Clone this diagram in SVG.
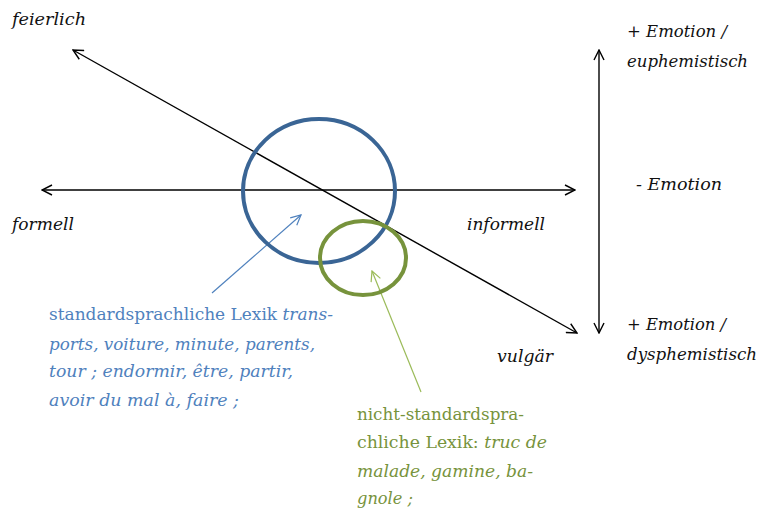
<svg xmlns="http://www.w3.org/2000/svg" width="762" height="510" viewBox="0 0 762 510">
<style>
.ax{stroke:#000;stroke-width:1.4;fill:none}
.t{font-family:"DejaVu Serif","Liberation Serif",serif;font-size:16px;font-style:italic;fill:#111}
.b{font-family:"DejaVu Serif","Liberation Serif",serif;font-size:16px;fill:#4f81bd}
.g{font-family:"DejaVu Serif","Liberation Serif",serif;font-size:16px;fill:#77933c}
.i{font-style:italic}
</style>
<defs>
<marker id="ah" viewBox="0 0 12 12" refX="11" refY="6" markerWidth="12" markerHeight="12" markerUnits="userSpaceOnUse" orient="auto-start-reverse">
<path d="M1,1 L11,6 L1,11" fill="none" stroke="#000" stroke-width="1.4"/>
</marker>
<marker id="ahb" viewBox="0 0 12 12" refX="11" refY="6" markerWidth="12" markerHeight="12" markerUnits="userSpaceOnUse" orient="auto">
<path d="M1,1 L11,6 L1,11" fill="none" stroke="#4f81bd" stroke-width="1.2"/>
</marker>
<marker id="ahg" viewBox="0 0 12 12" refX="11" refY="6" markerWidth="12" markerHeight="12" markerUnits="userSpaceOnUse" orient="auto">
<path d="M1,1 L11,6 L1,11" fill="none" stroke="#9bbb59" stroke-width="1.2"/>
</marker>
</defs>
<rect width="762" height="510" fill="#fff"/>
<g id="connectors">
<line class="ax" x1="73" y1="50" x2="577" y2="333" marker-start="url(#ah)" marker-end="url(#ah)"/>
<line class="ax" x1="42" y1="190" x2="575" y2="190" marker-start="url(#ah)" marker-end="url(#ah)"/>
<line class="ax" x1="599" y1="50" x2="599" y2="333" marker-start="url(#ah)" marker-end="url(#ah)"/>
<line x1="212" y1="293" x2="301" y2="215" stroke="#4f81bd" stroke-width="1.2" marker-end="url(#ahb)"/>
<line x1="421" y1="392" x2="372" y2="271" stroke="#9bbb59" stroke-width="1.2" marker-end="url(#ahg)"/>
</g>
<g id="standard-circle">
<ellipse cx="319" cy="191" rx="76" ry="72" fill="none" stroke="#3a6595" stroke-width="4"/>
</g>
<g id="nonstandard-circle">
<ellipse cx="363" cy="258" rx="43" ry="37" fill="none" stroke="#77933c" stroke-width="4"/>
</g>
<g id="labels">
<text class="t" x="12" y="25" textLength="74" lengthAdjust="spacingAndGlyphs">feierlich</text>
<text class="t" x="12" y="230" textLength="62" lengthAdjust="spacingAndGlyphs">formell</text>
<text class="t" x="467" y="230" textLength="78" lengthAdjust="spacingAndGlyphs">informell</text>
<text class="t" x="497" y="362" textLength="56" lengthAdjust="spacingAndGlyphs">vulgär</text>
<text class="t" x="627" y="37" textLength="100" lengthAdjust="spacingAndGlyphs">+ Emotion /</text>
<text class="t" x="627" y="67" textLength="121" lengthAdjust="spacingAndGlyphs">euphemistisch</text>
<text class="t" x="636" y="190" textLength="86" lengthAdjust="spacingAndGlyphs">- Emotion</text>
<text class="t" x="627" y="330" textLength="99" lengthAdjust="spacingAndGlyphs">+ Emotion /</text>
<text class="t" x="627" y="360" textLength="130" lengthAdjust="spacingAndGlyphs">dysphemistisch</text>
</g>
<g id="standard-label">
<text class="b" x="49" y="320" textLength="284" lengthAdjust="spacingAndGlyphs">standardsprachliche Lexik <tspan class="i">trans-</tspan></text>
<text class="b i" x="49" y="350" textLength="266" lengthAdjust="spacingAndGlyphs">ports, voiture, minute, parents,</text>
<text class="b i" x="49" y="377" textLength="244" lengthAdjust="spacingAndGlyphs">tour ; endormir, être, partir,</text>
<text class="b i" x="49" y="406" textLength="190" lengthAdjust="spacingAndGlyphs">avoir du mal à, faire ;</text>
</g>
<g id="nonstandard-label">
<text class="g" x="357" y="420" textLength="167" lengthAdjust="spacingAndGlyphs">nicht-standardspra-</text>
<text class="g" x="357" y="448" textLength="190" lengthAdjust="spacingAndGlyphs">chliche Lexik: <tspan class="i">truc de</tspan></text>
<text class="g i" x="357" y="477" textLength="176" lengthAdjust="spacingAndGlyphs">malade, gamine, ba-</text>
<text class="g i" x="357" y="504" textLength="56" lengthAdjust="spacingAndGlyphs">gnole ;</text>
</g>
</svg>
